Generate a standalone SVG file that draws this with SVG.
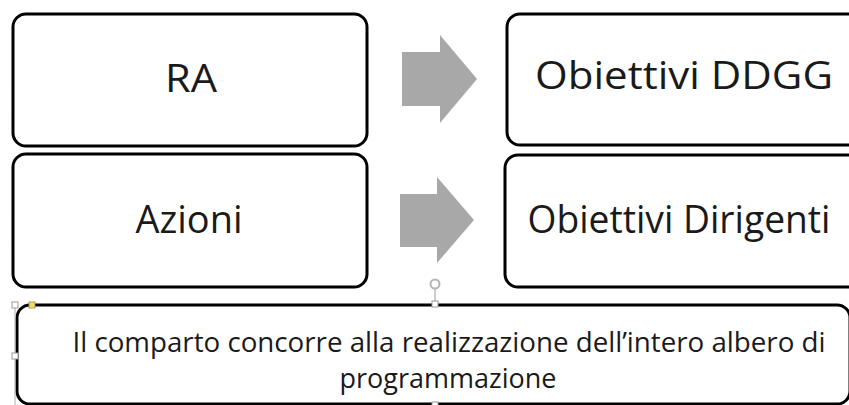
<svg xmlns="http://www.w3.org/2000/svg" width="849" height="405" viewBox="0 0 849 405">
  <style>
    .box { fill: #ffffff; stroke: #000000; stroke-width: 3; }
    .lbl { font-family: "Open Sans", "Liberation Sans", sans-serif; fill: #1a1a1a; text-anchor: middle; }
    .big { font-size: 38px; }
    .small { font-size: 27px; }
    .arrow { fill: #a8a8a8; }
    .handle { fill: #ffffff; stroke: #9a9a9a; stroke-width: 1; }
  </style>
  <rect width="849" height="405" fill="#ffffff"/>
  <g id="node-ra">
    <rect class="box" x="13" y="14" width="354" height="132" rx="13"/>
    <text class="lbl big" x="191" y="92" textLength="52" lengthAdjust="spacingAndGlyphs">RA</text>
  </g>
  <g id="node-obiettivi-ddgg">
    <rect class="box" x="507" y="14" width="370" height="131" rx="13"/>
    <text class="lbl big" x="684" y="89" textLength="298" lengthAdjust="spacingAndGlyphs">Obiettivi DDGG</text>
  </g>
  <g id="node-azioni">
    <rect class="box" x="13" y="154" width="354" height="133" rx="13"/>
    <text class="lbl big" x="189" y="233" textLength="107" lengthAdjust="spacingAndGlyphs">Azioni</text>
  </g>
  <g id="node-obiettivi-dirigenti">
    <rect class="box" x="505" y="155" width="372" height="132" rx="13"/>
    <text class="lbl big" x="679" y="233" textLength="303" lengthAdjust="spacingAndGlyphs">Obiettivi Dirigenti</text>
  </g>
  <g id="connectors">
    <polygon class="arrow" points="402,52 440,52 440,35 477,79 440,123 440,106 402,106"/>
    <polygon class="arrow" points="400,194 437,194 437,177 474,220 437,263 437,247 400,247"/>
  </g>
  <g id="node-comparto">
    <rect class="box" x="17" y="305" width="833" height="99" rx="13"/>
    <text class="lbl small" x="449" y="352" textLength="753" lengthAdjust="spacingAndGlyphs">Il comparto concorre alla realizzazione dell’intero albero di</text>
    <text class="lbl small" x="448" y="388" textLength="217" lengthAdjust="spacingAndGlyphs">programmazione</text>
    <line x1="15" y1="305" x2="15" y2="405" stroke="#b0b0b0" stroke-width="1"/>
    <line x1="435" y1="289" x2="435" y2="302" stroke="#9a9a9a" stroke-width="1"/>
    <circle cx="435" cy="284" r="4.5" fill="none" stroke="#b5b5b5" stroke-width="2"/>
    <rect class="handle" x="12" y="302" width="6" height="6"/>
    <rect x="29" y="302" width="6" height="6" fill="#f5dc6a" stroke="#a08a30" stroke-width="0.8"/>
    <rect class="handle" x="12" y="353" width="6" height="6"/>
    <rect class="handle" x="432" y="301" width="6" height="6"/>
    <rect class="handle" x="432" y="402" width="6" height="6"/>
  </g>
</svg>
